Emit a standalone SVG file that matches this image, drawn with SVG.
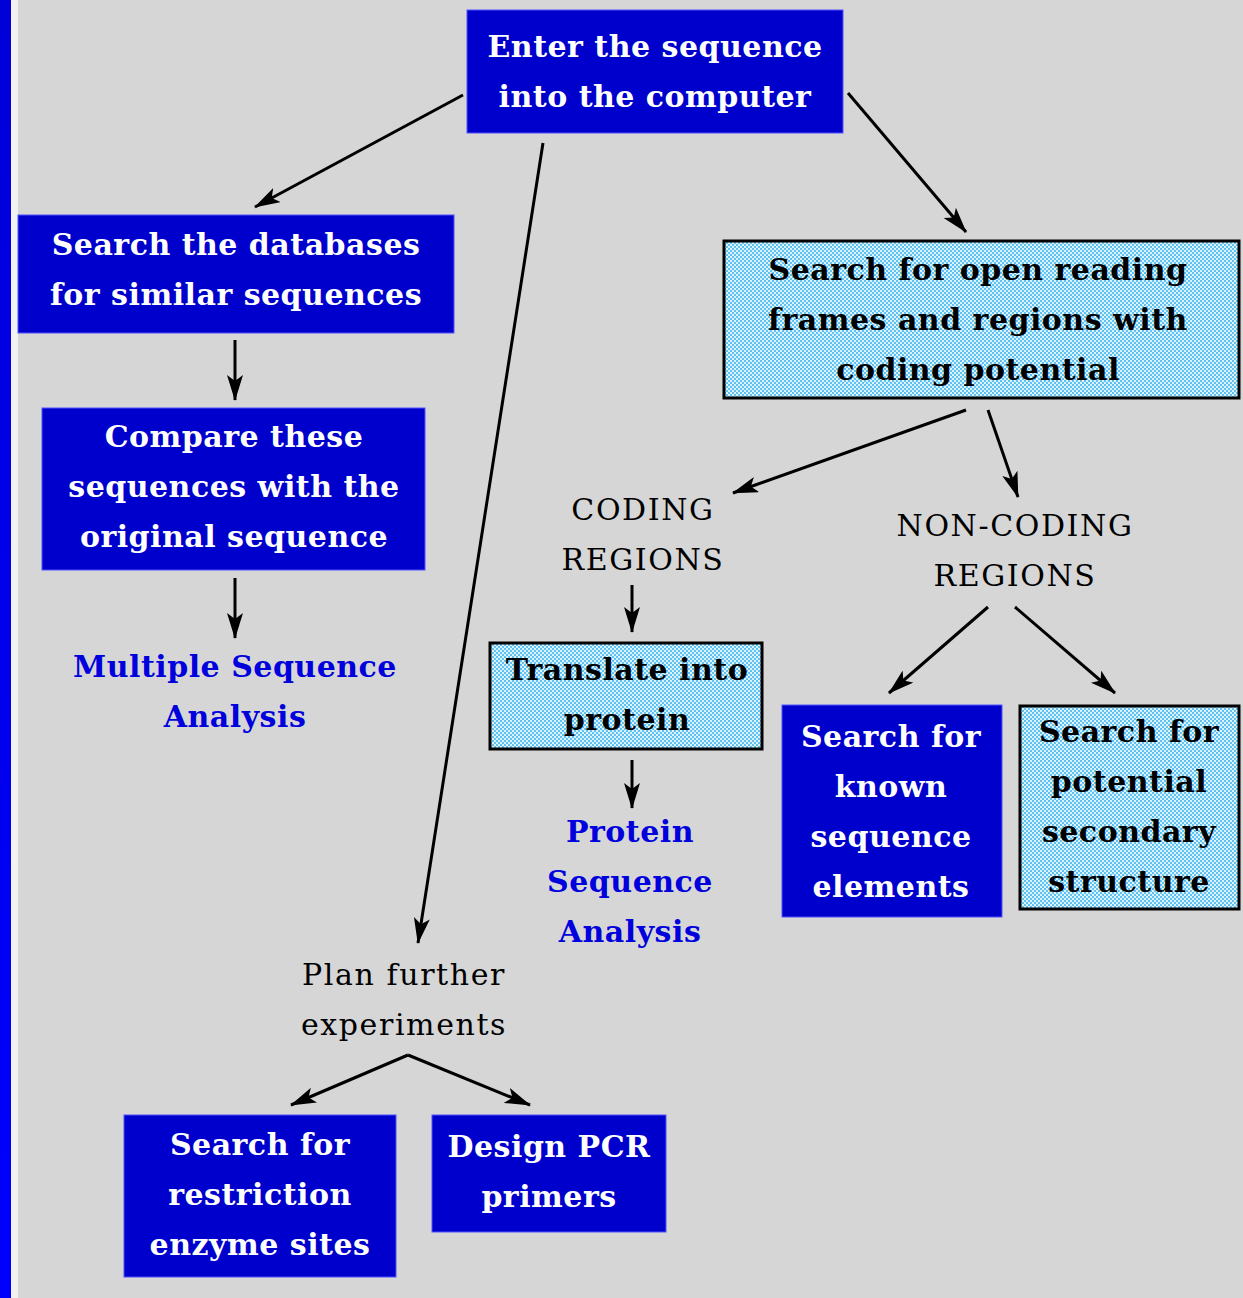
<svg xmlns="http://www.w3.org/2000/svg" width="1243" height="1298" viewBox="0 0 1243 1298">
<defs>
<linearGradient id="bar" x1="0" y1="0" x2="0" y2="1">
<stop offset="0" stop-color="#0000d8"/>
<stop offset="1" stop-color="#0000ff"/>
</linearGradient>
<pattern id="dots" width="4" height="4" patternUnits="userSpaceOnUse">
<rect width="4" height="4" fill="#dcf3fb"/>
<circle cx="1" cy="1" r="0.9" fill="#22aaee"/>
<circle cx="3" cy="3" r="0.9" fill="#22aaee"/>
</pattern>
<marker id="ah" viewBox="0 0 26 16" refX="25" refY="8" markerWidth="26" markerHeight="16" markerUnits="userSpaceOnUse" orient="auto">
<path d="M0,0 L26,8 L0,16 L6,8 Z" fill="#000"/>
</marker>
<style>
.blue{fill:#0000cc;stroke:#5050ff;stroke-width:1}
.dot{fill:url(#dots);stroke:#000;stroke-width:3}
.t{font-family:"DejaVu Serif","Liberation Serif",serif;font-size:30px;font-weight:bold;text-anchor:middle;letter-spacing:0.5px}
.w{fill:#fff}
.k{fill:#000}
.b{fill:#0000dd}
.n{font-weight:normal;letter-spacing:1.6px}
.c{fill:none;stroke:#000;stroke-width:3;marker-end:url(#ah)}
</style>
</defs>
<rect width="1243" height="1298" fill="#d6d6d6"/>
<rect x="0" y="0" width="11" height="1298" fill="url(#bar)"/>
<rect x="11" y="0" width="7" height="1298" fill="#f2f2f2"/>

<g id="connectors">
<line class="c" x1="463" y1="95" x2="255" y2="207"/>
<line class="c" x1="543" y1="143" x2="418" y2="943"/>
<line class="c" x1="848" y1="93" x2="966" y2="232"/>
<line class="c" x1="235" y1="340" x2="235" y2="400"/>
<line class="c" x1="235" y1="578" x2="235" y2="638"/>
<line class="c" x1="966" y1="410" x2="733" y2="493"/>
<line class="c" x1="988" y1="410" x2="1018" y2="497"/>
<line class="c" x1="632" y1="585" x2="632" y2="632"/>
<line class="c" x1="632" y1="760" x2="632" y2="808"/>
<line class="c" x1="988" y1="607" x2="889" y2="693"/>
<line class="c" x1="1015" y1="607" x2="1115" y2="693"/>
<path class="c" d="M408,1055 L291,1105"/>
<path class="c" d="M408,1055 L530,1105"/>
</g>

<g id="enter">
<rect class="blue" x="467" y="10" width="376" height="123"/>
<text class="t w" x="655" y="57">Enter the sequence</text>
<text class="t w" x="655" y="107">into the computer</text>
</g>

<g id="search-db">
<rect class="blue" x="18" y="215" width="436" height="118"/>
<text class="t w" x="236" y="255">Search the databases</text>
<text class="t w" x="236" y="305">for similar sequences</text>
</g>

<g id="compare">
<rect class="blue" x="42" y="408" width="383" height="162"/>
<text class="t w" x="234" y="447">Compare these</text>
<text class="t w" x="234" y="497">sequences with the</text>
<text class="t w" x="234" y="547">original sequence</text>
</g>

<g id="msa">
<text class="t b" x="235" y="677">Multiple Sequence</text>
<text class="t b" x="235" y="727">Analysis</text>
</g>

<g id="orf">
<rect class="dot" x="724" y="241" width="515" height="157"/>
<text class="t k" x="978" y="280">Search for open reading</text>
<text class="t k" x="978" y="330">frames and regions with</text>
<text class="t k" x="978" y="380">coding potential</text>
</g>

<g id="coding">
<text class="t k n" x="643" y="520">CODING</text>
<text class="t k n" x="643" y="570">REGIONS</text>
</g>

<g id="noncoding">
<text class="t k n" x="1015" y="536">NON-CODING</text>
<text class="t k n" x="1015" y="586">REGIONS</text>
</g>

<g id="translate">
<rect class="dot" x="490" y="643" width="272" height="106"/>
<text class="t k" x="627" y="680">Translate into</text>
<text class="t k" x="627" y="730">protein</text>
</g>

<g id="psa">
<text class="t b" x="630" y="842">Protein</text>
<text class="t b" x="630" y="892">Sequence</text>
<text class="t b" x="630" y="942">Analysis</text>
</g>

<g id="known">
<rect class="blue" x="782" y="705" width="220" height="212"/>
<text class="t w" x="891" y="747">Search for</text>
<text class="t w" x="891" y="797">known</text>
<text class="t w" x="891" y="847">sequence</text>
<text class="t w" x="891" y="897">elements</text>
</g>

<g id="secondary">
<rect class="dot" x="1020" y="706" width="219" height="203"/>
<text class="t k" x="1129" y="742">Search for</text>
<text class="t k" x="1129" y="792">potential</text>
<text class="t k" x="1129" y="842">secondary</text>
<text class="t k" x="1129" y="892">structure</text>
</g>

<g id="plan">
<text class="t k n" x="404" y="985">Plan further</text>
<text class="t k n" x="404" y="1035">experiments</text>
</g>

<g id="restriction">
<rect class="blue" x="124" y="1115" width="272" height="162"/>
<text class="t w" x="260" y="1155">Search for</text>
<text class="t w" x="260" y="1205">restriction</text>
<text class="t w" x="260" y="1255">enzyme sites</text>
</g>

<g id="pcr">
<rect class="blue" x="432" y="1115" width="234" height="117"/>
<text class="t w" x="549" y="1157">Design PCR</text>
<text class="t w" x="549" y="1207">primers</text>
</g>
</svg>
